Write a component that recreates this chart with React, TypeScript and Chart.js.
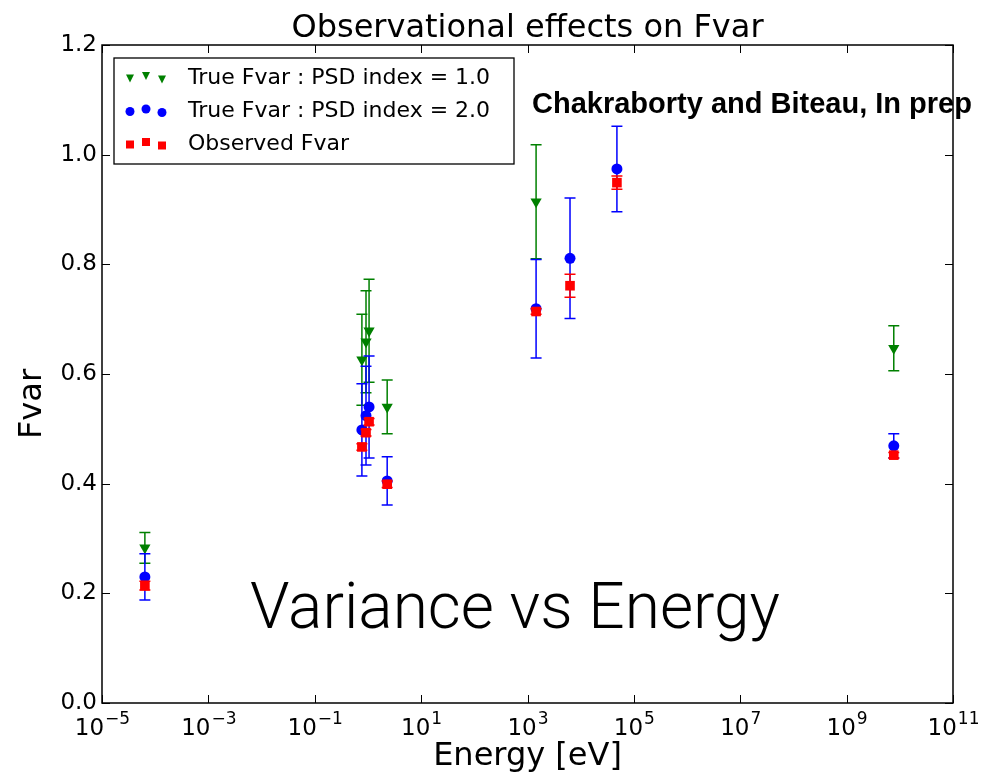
import { useEffect, useRef } from 'react';
import { Chart, registerables } from 'chart.js';

Chart.register(...registerables);

// Photon energy of each band [eV]
const energy = [6.4e-5, 0.77, 0.92, 1.05, 2.3, 1450, 6300, 48000, 7.7e9];

// Intrinsic Fvar for a red-noise PSD with index 1.0 (no value in two bands)
const fvarPsd1 = [0.283, 0.626, 0.659, 0.679, 0.54, 0.914, null, null, 0.647];
const fvarPsd1Err = [0.028, 0.083, 0.093, 0.094, 0.049, 0.104, null, null, 0.041];

// Intrinsic Fvar for PSD index 2.0
const fvarPsd2 = [0.23, 0.498, 0.524, 0.54, 0.405, 0.719, 0.811, 0.974, 0.469];
const fvarPsd2Err = [0.042, 0.084, 0.09, 0.093, 0.044, 0.09, 0.11, 0.078, 0.022];

// Fvar measured from the sampled light curves
const fvarObs = [0.214, 0.467, 0.493, 0.513, 0.399, 0.714, 0.761, 0.949, 0.452];
const fvarObsErr = [0.008, 0.006, 0.006, 0.006, 0.006, 0.005, 0.021, 0.012, 0.005];

const xTickExponents = [-5, -3, -1, 1, 3, 5, 7, 9, 11];

const legendLabels = [
  'True Fvar : PSD index = 1.0',
  'True Fvar : PSD index = 2.0',
  'Observed Fvar',
];

const titleText = 'Observational effects on Fvar';
const yAxisTitle = 'Fvar';
const xAxisTitle = 'Energy [eV]';
const creditText = 'Chakraborty and Biteau, In prep';
const bannerText = 'Variance vs Energy';

const GREEN = '#008000';
const BLUE = '#0000ff';
const RED = '#ff0000';

const toPoints = (ys: (number | null)[], errs: (number | null)[]) =>
  energy
    .map((x, i) => ({ x, y: ys[i], err: errs[i] }))
    .filter((p) => p.y !== null);

function drawMarker(ctx: CanvasRenderingContext2D, kind: string, x: number, y: number, s: number, color: string) {
  ctx.fillStyle = color;
  ctx.beginPath();
  if (kind === 'tri') {
    ctx.moveTo(x - s / 2, y - s / 2);
    ctx.lineTo(x + s / 2, y - s / 2);
    ctx.lineTo(x, y + s / 2);
    ctx.closePath();
  } else if (kind === 'circle') {
    ctx.arc(x, y, s / 2, 0, Math.PI * 2);
  } else {
    ctx.rect(x - s / 2, y - s / 2, s, s);
  }
  ctx.fill();
}

const errorBars = {
  id: 'errorBars',
  beforeDatasetDraw(chart: any, args: any) {
    const ds = chart.data.datasets[args.index];
    const xs = chart.scales.x;
    const ys = chart.scales.y;
    const ctx = chart.ctx as CanvasRenderingContext2D;
    ctx.save();
    ctx.strokeStyle = ds.borderColor;
    ctx.lineWidth = 1.5;
    for (const p of ds.data) {
      if (p.err == null) continue;
      const px = xs.getPixelForValue(p.x);
      const top = ys.getPixelForValue(p.y + p.err);
      const bot = ys.getPixelForValue(p.y - p.err);
      ctx.beginPath();
      ctx.moveTo(px, top);
      ctx.lineTo(px, bot);
      ctx.moveTo(px - 5.5, top);
      ctx.lineTo(px + 5.5, top);
      ctx.moveTo(px - 5.5, bot);
      ctx.lineTo(px + 5.5, bot);
      ctx.stroke();
    }
    ctx.restore();
  },
};

const frameAndTicks = {
  id: 'frameAndTicks',
  afterDatasetsDraw(chart: any) {
    const { left, right, top, bottom } = chart.chartArea;
    const ctx = chart.ctx as CanvasRenderingContext2D;
    const xs = chart.scales.x;
    const ys = chart.scales.y;
    ctx.save();
    ctx.strokeStyle = '#000';
    ctx.lineWidth = 1;
    ctx.beginPath();
    for (const t of ys.ticks) {
      const py = Math.round(ys.getPixelForValue(t.value)) + 0.5;
      ctx.moveTo(left, py);
      ctx.lineTo(left + 8, py);
      ctx.moveTo(right, py);
      ctx.lineTo(right - 8, py);
    }
    for (const t of xs.ticks) {
      const px = Math.round(xs.getPixelForValue(t.value)) + 0.5;
      ctx.moveTo(px, bottom);
      ctx.lineTo(px, bottom - 8);
      ctx.moveTo(px, top);
      ctx.lineTo(px, top + 8);
    }
    ctx.stroke();
    ctx.lineWidth = 1.5;
    ctx.strokeRect(left, top, right - left, bottom - top);

    // decade labels, 10 with a raised exponent
    ctx.fillStyle = '#000';
    ctx.textBaseline = 'alphabetic';
    ctx.textAlign = 'left';
    for (const t of xs.ticks) {
      const px = xs.getPixelForValue(t.value);
      const e = Math.round(Math.log10(t.value));
      const expText = (e < 0 ? '\u2212' : '') + String(Math.abs(e));
      ctx.font = '23px "DejaVu Sans"';
      const wb = ctx.measureText('10').width;
      ctx.font = '17px "DejaVu Sans"';
      const we = ctx.measureText(expText).width;
      const x0 = px - (wb + we) / 2;
      ctx.font = '23px "DejaVu Sans"';
      ctx.fillText('10', x0, bottom + 32);
      ctx.font = '17px "DejaVu Sans"';
      ctx.fillText(expText, x0 + wb + 1, bottom + 21);
    }

    // y axis title
    ctx.save();
    ctx.font = '32px "DejaVu Sans"';
    ctx.textAlign = 'center';
    ctx.textBaseline = 'middle';
    ctx.translate(33, 404);
    ctx.rotate(-Math.PI / 2);
    ctx.fillText(yAxisTitle, 0, 0);
    ctx.restore();
    ctx.restore();
  },
};

const annotations = {
  id: 'annotations',
  afterDraw(chart: any) {
    const { left, right } = chart.chartArea;
    const ctx = chart.ctx as CanvasRenderingContext2D;
    ctx.save();
    ctx.fillStyle = '#000';
    ctx.textBaseline = 'alphabetic';

    // title
    ctx.font = '32px "DejaVu Sans"';
    ctx.textAlign = 'center';
    ctx.fillText(titleText, (left + right) / 2, 37);

    // credit line
    ctx.font = 'bold 29px "Liberation Sans"';
    ctx.textAlign = 'left';
    ctx.fillText(creditText, 532, 113);

    // banner
    ctx.font = '300 64px Roboto';
    ctx.textAlign = 'center';
    ctx.fillText(bannerText, 515, 628);

    // legend
    const bx = 114, by = 58, bw = 400, bh = 106;
    ctx.fillStyle = '#fff';
    ctx.fillRect(bx, by, bw, bh);
    ctx.strokeStyle = '#000';
    ctx.lineWidth = 1.3;
    ctx.strokeRect(bx, by, bw, bh);
    const rows = [
      { kind: 'tri', color: GREEN, size: 8 },
      { kind: 'circle', color: BLUE, size: 9 },
      { kind: 'square', color: RED, size: 8 },
    ];
    const offs = [0.5, -2, 1.5];
    const mx = [130, 146, 162];
    rows.forEach((r, i) => {
      const cy = 78 + i * 33;
      mx.forEach((x, j) => drawMarker(ctx, r.kind, x, cy + offs[j], r.size, r.color));
      ctx.fillStyle = '#000';
      ctx.font = '22px "DejaVu Sans"';
      ctx.textAlign = 'left';
      ctx.textBaseline = 'middle';
      ctx.fillText(legendLabels[i], 188, cy);
    });
    ctx.restore();
  },
};

export default function App() {
  const canvasRef = useRef<HTMLCanvasElement | null>(null);

  useEffect(() => {
    const canvas = canvasRef.current;
    if (!canvas) return;
    const chart = new Chart(canvas, {
      type: 'scatter',
      data: {
        datasets: [
          {
            label: legendLabels[2],
            data: toPoints(fvarObs, fvarObsErr) as any,
            pointStyle: 'rect',
            pointRadius: 6.8,
            backgroundColor: RED,
            borderColor: RED,
            borderWidth: 0,
          },
          {
            label: legendLabels[1],
            data: toPoints(fvarPsd2, fvarPsd2Err) as any,
            pointStyle: 'circle',
            pointRadius: 5.5,
            backgroundColor: BLUE,
            borderColor: BLUE,
            borderWidth: 0,
          },
          {
            label: legendLabels[0],
            data: toPoints(fvarPsd1, fvarPsd1Err) as any,
            pointStyle: 'triangle',
            pointRotation: 180,
            pointRadius: 6.5,
            backgroundColor: GREEN,
            borderColor: GREEN,
            borderWidth: 0,
          },
        ],
      },
      options: {
        responsive: false,
        animation: false,
        events: [],
        layout: { padding: { top: 45, right: 29, left: 0, bottom: 0 } },
        plugins: {
          legend: { display: false },
          tooltip: { enabled: false },
          title: { display: false },
        },
        scales: {
          x: {
            type: 'logarithmic',
            min: 1e-5,
            max: 1e11,
            afterBuildTicks: (scale: any) => {
              scale.ticks = xTickExponents.map((e) => ({ value: Math.pow(10, e) }));
            },
            afterFit: (scale: any) => {
              scale.height = 73;
            },
            grid: { display: false, drawTicks: false },
            border: { display: false },
            ticks: { display: false },
            title: {
              display: true,
              text: xAxisTitle,
              color: '#000',
              font: { family: '"DejaVu Sans"', size: 32 },
              padding: { top: 0, bottom: 0 },
            },
          },
          y: {
            min: 0,
            max: 1.2,
            afterFit: (scale: any) => {
              scale.width = 102;
            },
            grid: { display: false, drawTicks: false },
            border: { display: false },
            ticks: {
              stepSize: 0.2,
              color: '#000',
              font: { family: '"DejaVu Sans"', size: 23 },
              padding: 5,
              callback: (v: any) => Number(v).toFixed(1),
            },
          },
        },
      },
      plugins: [errorBars, frameAndTicks, annotations],
    });
    return () => chart.destroy();
  }, []);

  return (
    <div style={{ position: 'fixed', left: 0, top: 0, width: 982, height: 776, background: '#fff' }}>
      <canvas ref={canvasRef} width={982} height={776} style={{ display: 'block' }} />
    </div>
  );
}
